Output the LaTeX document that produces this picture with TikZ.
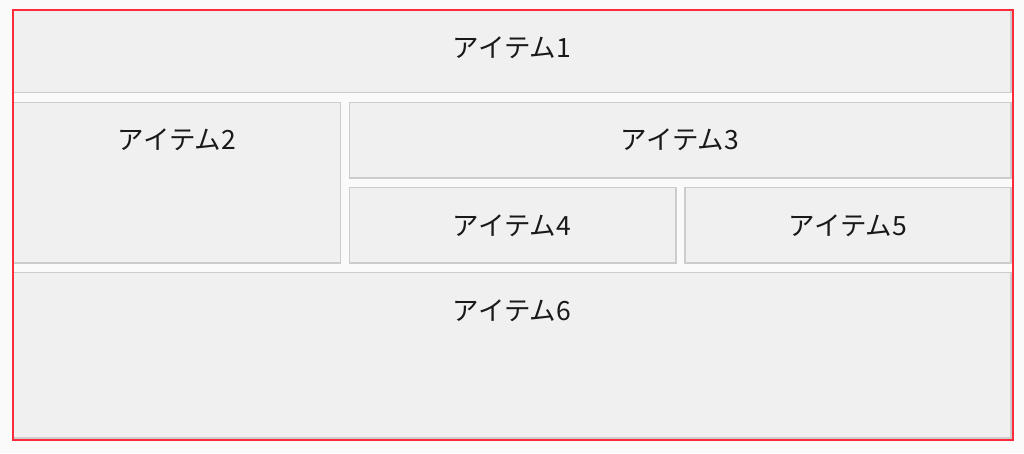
\documentclass[tikz,border=0pt]{standalone}
\usepackage{fontspec}
\newfontfamily\jp{Noto Sans CJK JP}
\definecolor{bg}{HTML}{FAFAFA}
\definecolor{cell}{HTML}{F0F0F0}
\definecolor{edge}{HTML}{CCCCCC}
\definecolor{frame}{HTML}{FF2A3A}
\tikzset{
  cellbox/.style={draw=edge, fill=cell, line width=1.5pt},
  lbl/.style={font=\jp\fontsize{26.5}{26.5}\selectfont, text=black!90, inner sep=0pt},
}
\begin{document}
\begin{tikzpicture}[x=1pt,y=-1pt]
\useasboundingbox[fill=bg] (0,0) rectangle (1024,453);
% cells
\draw[cellbox] (13.5,10.5) rectangle (1011,92.5);
\draw[cellbox] (13.5,102.5) rectangle (340.5,263);
\draw[cellbox] (349.5,102.5) rectangle (1011,178);
\draw[cellbox] (349.5,187.5) rectangle (676,263);
\draw[cellbox] (685,187.5) rectangle (1011,263);
\draw[cellbox] (13.5,272.5) rectangle (1011,438);
% labels
\node[lbl] (i1) at (512,48) {アイテム1};
\node[lbl] (i2) at (177,140) {アイテム2};
\node[lbl] (i3) at (680,140) {アイテム3};
\node[lbl] (i4) at (512,226) {アイテム4};
\node[lbl] (i5) at (848,226) {アイテム5};
\node[lbl] (i6) at (512,311) {アイテム6};
% outer red frame
\draw[frame, line width=2pt] (12.5,9.5) rectangle (1012.5,439.5);
\end{tikzpicture}
\end{document}
